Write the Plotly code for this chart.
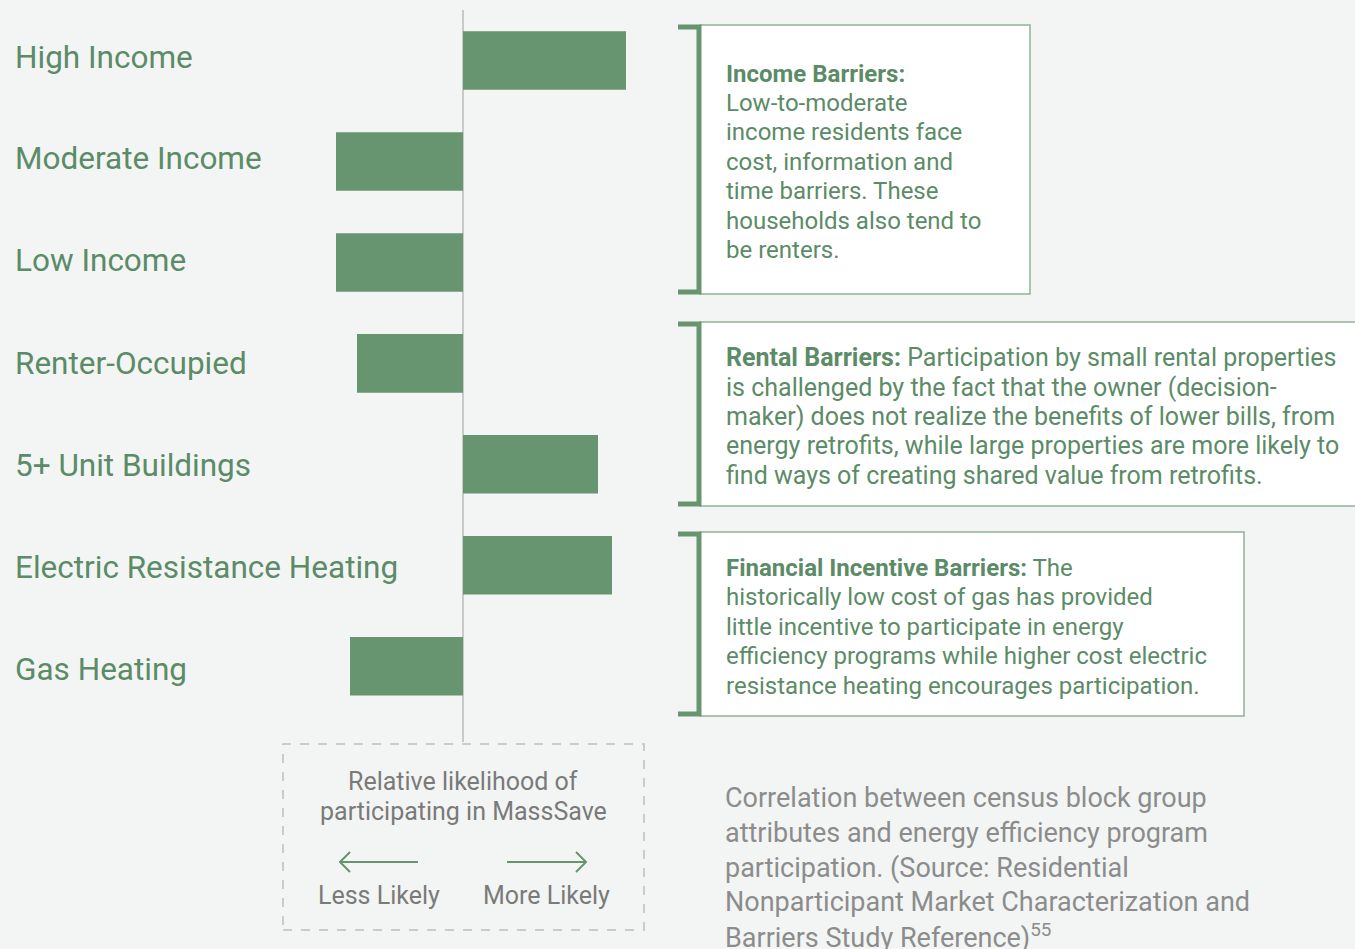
import plotly.graph_objects as go

W, H = 1355, 949

categories = ["High Income", "Moderate Income", "Low Income", "Renter-Occupied",
              "5+ Unit Buildings", "Electric Resistance Heating", "Gas Heating"]
values = [1.63, -1.27, -1.27, -1.06, 1.35, 1.49, -1.13]

income_lines = ["<b>Income Barriers:</b>", "Low-to-moderate", "income residents face",
                "cost, information and", "time barriers. These",
                "households also tend to", "be renters."]
rental_lines = ["<b>Rental Barriers:</b> Participation by small rental properties",
                "is challenged by the fact that the owner (decision-",
                "maker) does not realize the benefits of lower bills, from",
                "energy retrofits, while large properties are more likely to",
                "find ways of creating shared value from retrofits."]
financial_lines = ["<b>Financial Incentive Barriers:</b> The",
                   "historically low cost of gas has provided",
                   "little incentive to participate in energy",
                   "efficiency programs while higher cost electric",
                   "resistance heating encourages participation."]
legend_title = ["Relative likelihood of", "participating in MassSave"]
legend_labels = ["Less Likely", "More Likely"]
caption_lines = ["Correlation between census block group",
                 "attributes and energy efficiency program",
                 "participation. (Source: Residential",
                 "Nonparticipant Market Characterization and",
                 "Barriers Study Reference)<sup>55</sup>"]

BG = "#f3f5f4"
BAR = "#66956f"
GREEN_TXT = "#5b8b67"
GRAY_TXT = "#7a7a7a"
CAP_TXT = "#8c8c8c"


def px(x):
    return x / W


def py(y):
    return 1 - y / H


fig = go.Figure(go.Bar(
    y=categories, x=values, orientation="h",
    marker=dict(color=BAR, line=dict(width=0)),
    width=0.58, hoverinfo="x+y",
))

# x axis: zero at pixel 463, 100 px per unit
fig.update_xaxes(domain=[0, 1], range=[-4.63, (W - 463) / 100.0],
                 showgrid=False, showticklabels=False, zeroline=True,
                 zerolinecolor="#c9c9c9", zerolinewidth=2, fixedrange=True)
fig.update_yaxes(domain=[py(742), py(10)], range=[6.75, -0.5],
                 showgrid=False, showticklabels=False, fixedrange=True)

annotations = []
shapes = []

# category labels
label_shift = [3, 3, 2, 0, -1, -2, -3]
for c, s in zip(categories, label_shift):
    annotations.append(dict(x=px(13), y=c, xref="paper", yref="y", text=c,
                            showarrow=False, xanchor="left", yanchor="middle",
                            yshift=s,
                            font=dict(family="Roboto", size=31.5, color=GREEN_TXT)))


def box(x0, y0, x1, y1, lines, ys, size):
    shapes.append(dict(type="rect", xref="paper", yref="paper",
                       x0=px(x0), x1=px(x1), y0=py(y1), y1=py(y0),
                       fillcolor="white", line=dict(color="#8db497", width=1.5),
                       layer="above"))
    # bracket
    shapes.append(dict(type="path", xref="paper", yref="paper",
                       path=f"M {px(678)},{py(y0+2)} L {px(699)},{py(y0+2)} L {px(699)},{py(y1-2)} L {px(678)},{py(y1-2)}",
                       line=dict(color=BAR, width=5), layer="above"))
    for t, yy in zip(lines, ys):
        annotations.append(dict(x=px(724), y=py(yy), xref="paper", yref="paper",
                                text=t, showarrow=False, xanchor="left",
                                yanchor="middle",
                                font=dict(family="Roboto", size=size, color=GREEN_TXT)))


box(700, 25, 1030, 294, income_lines, [74, 103, 132, 162, 191, 221, 250], 24)
box(700, 322, 1362, 506, rental_lines, [357, 387, 416, 445, 475], 25)
box(700, 532, 1244, 716, financial_lines, [568, 597, 627, 656, 686], 24)

# legend box
shapes.append(dict(type="rect", xref="paper", yref="paper",
                   x0=px(283), x1=px(644), y0=py(930), y1=py(744),
                   line=dict(color="#bdbdbd", width=1.5, dash="dash"),
                   fillcolor="rgba(0,0,0,0)"))
for t, yy in zip(legend_title, [781, 811]):
    annotations.append(dict(x=px(463), y=py(yy), xref="paper", yref="paper",
                            text=t, showarrow=False, xanchor="center", yanchor="middle",
                            font=dict(family="Roboto", size=25, color=GRAY_TXT)))
for t, xx in zip(legend_labels, [379, 546]):
    annotations.append(dict(x=px(xx), y=py(895), xref="paper", yref="paper",
                            text=t, showarrow=False, xanchor="center", yanchor="middle",
                            font=dict(family="Roboto", size=25, color=GRAY_TXT)))
# arrows
shapes.append(dict(type="path", xref="paper", yref="paper",
                   path=f"M {px(418)},{py(862)} L {px(340)},{py(862)} M {px(350)},{py(852)} L {px(340)},{py(862)} L {px(350)},{py(872)}",
                   line=dict(color=BAR, width=2)))
shapes.append(dict(type="path", xref="paper", yref="paper",
                   path=f"M {px(507)},{py(862)} L {px(586)},{py(862)} M {px(576)},{py(852)} L {px(586)},{py(862)} L {px(576)},{py(872)}",
                   line=dict(color=BAR, width=2)))

# caption
for t, yy in zip(caption_lines, [798, 833, 868, 902, 936]):
    annotations.append(dict(x=px(723), y=py(yy), xref="paper", yref="paper",
                            text=t, showarrow=False, xanchor="left", yanchor="middle",
                            font=dict(family="Roboto", size=27, color=CAP_TXT)))

fig.update_layout(width=W, height=H, margin=dict(l=0, r=0, t=0, b=0),
                  paper_bgcolor=BG, plot_bgcolor=BG, showlegend=False,
                  annotations=annotations, shapes=shapes, bargap=0.42)

fig.write_html("out.html", config={"displayModeBar": False},
               post_script="document.body.style.margin='0';document.body.style.overflow='hidden';")
